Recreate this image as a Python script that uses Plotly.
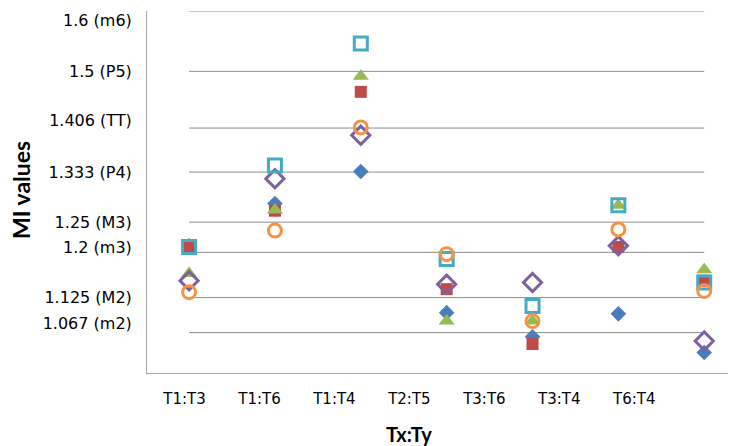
import plotly.graph_objects as go

categories = ["T1:T3", "T1:T6", "T1:T4", "T2:T5", "T3:T6", "T3:T4", "T6:T4"]
cat_index = list(range(len(categories)))

s_blue_diamond = [1.211, 1.281, 1.334, 1.100, 1.060, 1.098, 1.034]
s_red_square = [1.209, 1.269, 1.466, 1.139, 1.048, 1.209, 1.153]
s_green_triangle = [1.165, 1.270, 1.492, 1.086, 1.086, 1.278, 1.171]
s_purple_diamond = [1.153, 1.322, 1.394, 1.147, 1.150, 1.211, 1.053]
s_teal_square = [1.209, 1.344, 1.546, 1.189, 1.111, 1.278, 1.150]
s_orange_circle = [1.134, 1.236, 1.407, 1.197, 1.086, 1.238, 1.136]

grid_values = [1.6, 1.5, 1.406, 1.333, 1.25, 1.2, 1.125, 1.067]
tick_label_pos = [1.585, 1.5, 1.418, 1.333, 1.25, 1.208, 1.125, 1.083]
tick_label_text = ["1.6 (m6)", "1.5 (P5)", "1.406 (TT)", "1.333 (P4)",
                   "1.25 (M3)", "1.2 (m3)", "1.125 (M2)", "1.067 (m2)"]

TICK_FONT = "DejaVu Sans"
TITLE_FONT = "Lato"

X_MIN, X_MAX = -0.49, 6.37
# category labels sit on a band covering the left 89.1% of the plot width
band = (X_MAX - X_MIN) * 0.891 / len(categories)
label_pos = [X_MIN + (k + 0.5) * band for k in cat_index]

series = [
    (s_blue_diamond, "diamond", "#4A7EBB", 12, 0),
    (s_red_square, "square", "#BE4B48", 12, 0),
    (s_green_triangle, "triangle-up", "#98B954", 14, 0),
    (s_purple_diamond, "diamond-open", "#7D60A0", 14, 3),
    (s_teal_square, "square-open", "#46AAC5", 13, 3),
    (s_orange_circle, "circle-open", "#F69240", 13, 3),
]

fig = go.Figure()
for vals, sym, col, size, lw in series:
    marker = dict(symbol=sym, color=col, size=size)
    if lw:
        marker["line"] = dict(color=col, width=lw)
    fig.add_trace(go.Scatter(x=cat_index, y=vals, mode="markers",
                             marker=marker, showlegend=False,
                             hoverinfo="y"))

for g in grid_values:
    fig.add_shape(type="line", xref="x", yref="y", x0=0, x1=6, y0=g, y1=g,
                  line=dict(color="#8C8C8C", width=1), layer="below")

fig.add_annotation(text="<b>Tx:Ty</b>", xref="x", yref="paper",
                   x=(label_pos[0] + label_pos[-1]) / 2, y=0,
                   yanchor="middle", yshift=-61, showarrow=False,
                   font=dict(family=TITLE_FONT, size=20))
fig.add_annotation(text="<b>MI values</b>", xref="paper", yref="paper",
                   x=0, y=0.5, xanchor="center", yanchor="middle",
                   xshift=-126, yshift=2, textangle=-90, showarrow=False,
                   font=dict(family=TITLE_FONT, size=23))

fig.update_layout(
    width=736, height=446,
    margin=dict(l=139, r=8, t=3, b=81),
    paper_bgcolor="white", plot_bgcolor="white",
    font=dict(family=TICK_FONT, size=15, color="#000000"),
    xaxis=dict(range=[X_MIN, X_MAX], showgrid=False, zeroline=False,
               tickmode="array", tickvals=label_pos, ticktext=categories,
               ticks="", ticklabelstandoff=12,
               tickfont=dict(family=TICK_FONT, size=15),
               showline=True, linecolor="#A6A6A6", linewidth=1),
    yaxis=dict(range=[1.0, 1.6], showgrid=False, zeroline=False,
               tickmode="array", tickvals=tick_label_pos,
               ticktext=tick_label_text, ticks="", ticklabelstandoff=11,
               showline=True, linecolor="#A6A6A6", linewidth=1,
               tickfont=dict(family=TICK_FONT, size=16)),
)

fig.write_html("out.html")
